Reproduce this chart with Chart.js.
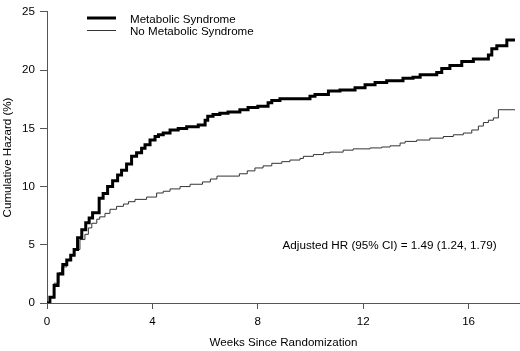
<!DOCTYPE html>
<html>
<head>
<meta charset="utf-8">
<script src="https://cdn.jsdelivr.net/npm/chart.js@4.4.1/dist/chart.umd.min.js"></script>
<style>
  html, body { margin: 0; padding: 0; background: #fff; }
  #wrap { width: 520px; height: 351px; }
</style>
</head>
<body>
<div id="wrap"><canvas id="myChart" width="520" height="351"></canvas></div>
<script>
// cumulative hazard step curves (weeks, %)
const weeksMS = [0, 0.11, 0.27, 0.42, 0.6, 0.75, 0.9, 1.03, 1.16, 1.32, 1.47, 1.6, 1.73, 1.98, 2.13, 2.3, 2.49, 2.68, 2.83, 3.02,
    3.21, 3.4, 3.59, 3.72, 3.91, 4.1, 4.23, 4.41, 4.67, 4.98, 5.3, 5.74, 6.0, 6.1, 6.3, 6.56, 6.87, 7.32, 7.63, 8.0,
    8.39, 8.53, 8.84, 9.98, 10.17, 10.68, 11.12, 11.69, 12.07, 12.45, 12.89, 13.51, 13.89, 14.16, 14.79, 14.98, 15.29,
    15.74, 16.18, 16.75, 16.88, 17.07, 17.45, 17.76];
const hazardMS = [0, 0.5, 1.5, 2.5, 3.3, 3.7, 4.1, 4.6, 5.6, 6.3, 6.9, 7.3, 7.75, 9.0, 9.4, 10.0, 10.5, 11.0, 11.4, 11.95,
    12.6, 12.9, 13.3, 13.6, 14.0, 14.3, 14.45, 14.6, 14.85, 15.0, 15.15, 15.3, 15.7, 16.05, 16.2, 16.3, 16.4, 16.6, 16.8, 16.9,
    17.2, 17.4, 17.55, 17.75, 17.9, 18.2, 18.3, 18.5, 18.75, 18.95, 19.1, 19.3, 19.4, 19.6, 19.8, 20.15, 20.4,
    20.75, 20.95, 21.3, 21.85, 22.1, 22.6, 22.6];

const weeksNoMS = [0, 0.12, 0.27, 0.45, 0.56, 0.75, 0.9, 1.05, 1.25, 1.44, 1.57, 1.7, 1.89, 2.0, 2.2, 2.39, 2.64, 2.9, 3.09, 3.34,
    3.78, 4.16, 4.41, 4.67, 5.05, 5.43, 5.9, 6.2, 6.45, 7.3, 7.6, 7.89, 8.2, 8.53, 8.91, 9.22, 9.6, 9.73, 10.11, 10.49,
    10.74, 11.24, 11.62, 12.26, 12.7, 13.02, 13.4, 13.59, 14.03, 14.53, 15.04, 15.42, 15.8, 16.12, 16.37, 16.56, 16.75,
    16.94, 17.13, 17.76];
const hazardNoMS = [0, 0.5, 1.7, 2.6, 3.1, 3.7, 4.1, 4.6, 5.45, 5.9, 6.45, 6.85, 7.2, 7.4, 7.7, 8.05, 8.3, 8.5, 8.7, 8.9,
    9.1, 9.45, 9.6, 9.8, 10.0, 10.2, 10.4, 10.65, 10.9, 11.1, 11.35, 11.6, 11.78, 12.0, 12.14, 12.28, 12.42, 12.6, 12.75, 12.9,
    12.96, 13.13, 13.24, 13.32, 13.4, 13.5, 13.74, 13.88, 14.0, 14.16, 14.3, 14.45, 14.6, 14.86, 15.2, 15.5, 15.7,
    15.9, 16.6, 16.6];

const seriesLabels = ['Metabolic Syndrome', 'No Metabolic Syndrome'];
const xTicks = [0, 4, 8, 12, 16];
const yTicks = [0, 5, 10, 15, 20, 25];
const note = 'Adjusted HR (95% CI) = 1.49 (1.24, 1.79)';

const FONT = 'Liberation Sans, Arial, sans-serif';
const AXIS = '#555';

function toPoints(xs, ys) {
    return xs.map((x, i) => ({ x: x, y: ys[i] }));
}

// legend in the top left corner, drawn as line samples
const legendLines = {
    id: 'legendLines',
    afterDraw(chart) {
        const ctx = chart.ctx;
        ctx.save();
        chart.data.datasets.forEach((ds, i) => {
            let y = 18 + i * 12.5;
            ctx.beginPath();
            ctx.strokeStyle = ds.borderColor;
            ctx.lineWidth = ds.borderWidth;
            ctx.moveTo(87, y);
            ctx.lineTo(116, y);
            ctx.stroke();
            ctx.fillStyle = '#000';
            ctx.font = '11.6px ' + FONT;
            ctx.textBaseline = 'middle';
            ctx.textAlign = 'left';
            ctx.fillText(ds.label, 130, y + 1.5);
        });
        ctx.restore();
    }
};

const hrNote = {
    id: 'hrNote',
    afterDraw(chart) {
        const ctx = chart.ctx;
        const xs = chart.scales.x, ys = chart.scales.y;
        ctx.save();
        ctx.fillStyle = '#000';
        ctx.font = '11.7px ' + FONT;
        ctx.textAlign = 'center';
        ctx.textBaseline = 'middle';
        ctx.fillText(note, xs.getPixelForValue(13.0), ys.getPixelForValue(4.9));
        ctx.restore();
    }
};

const ctx1 = document.getElementById('myChart').getContext('2d');
const myChart = new Chart(ctx1, {
    type: 'line',
    data: {
        datasets: [{
            label: seriesLabels[0],
            data: toPoints(weeksMS, hazardMS),
            borderColor: '#000',
            borderWidth: 3,
            stepped: 'before',
            pointRadius: 0,
            fill: false
        }, {
            label: seriesLabels[1],
            data: toPoints(weeksNoMS, hazardNoMS),
            borderColor: '#333',
            borderWidth: 1,
            stepped: 'before',
            pointRadius: 0,
            fill: false
        }]
    },
    options: {
        responsive: false,
        animation: false,
        layout: { padding: { top: 8, right: 0, left: 0, bottom: 0 } },
        plugins: {
            legend: { display: false },
            tooltip: { enabled: false }
        },
        scales: {
            x: {
                type: 'linear',
                min: 0,
                max: 17.95,
                afterFit: (scale) => { scale.height = 48; },
                afterBuildTicks: (scale) => { scale.ticks = xTicks.map(v => ({ value: v })); },
                grid: { drawOnChartArea: false, drawTicks: true, tickLength: 6, color: AXIS },
                border: { display: true, color: AXIS, width: 1 },
                ticks: { color: '#000', padding: 6, font: { family: FONT, size: 11.6 }, maxRotation: 0 },
                title: {
                    display: true,
                    text: 'Weeks Since Randomization',
                    color: '#000',
                    font: { family: FONT, size: 11.6 },
                    padding: { top: 0, bottom: 1 }
                }
            },
            y: {
                min: 0,
                max: 25,
                afterFit: (scale) => { scale.width = 47; },
                afterBuildTicks: (scale) => { scale.ticks = yTicks.map(v => ({ value: v })); },
                grid: { drawOnChartArea: false, drawTicks: true, tickLength: 7, color: AXIS },
                border: { display: true, color: AXIS, width: 1 },
                ticks: { color: '#000', padding: 5, font: { family: FONT, size: 11.6 } },
                title: {
                    display: true,
                    text: 'Cumulative Hazard (%)',
                    color: '#000',
                    font: { family: FONT, size: 11.6 },
                    padding: { top: 1, bottom: 0 }
                }
            }
        }
    },
    plugins: [legendLines, hrNote]
});
</script>
</body>
</html>
